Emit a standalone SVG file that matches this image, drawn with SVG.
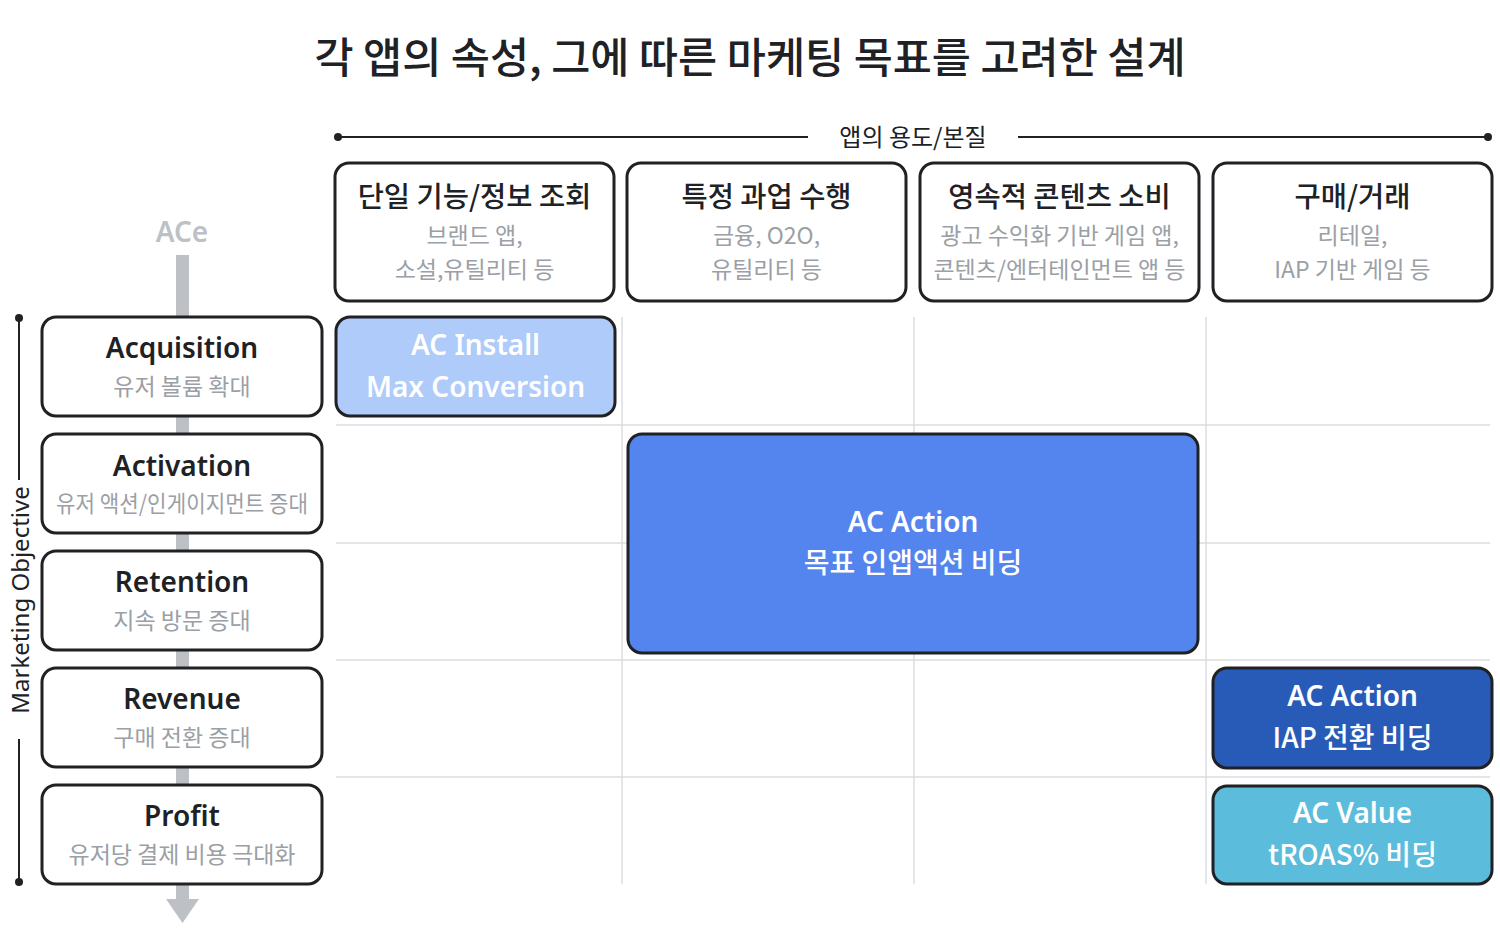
<svg xmlns="http://www.w3.org/2000/svg" width="1500" height="952" viewBox="0 0 1500 952">
<style>
text{font-family:"Noto Sans CJK KR","Noto Sans",sans-serif;text-anchor:middle}
.lat{font-family:"Noto Sans","Noto Sans CJK KR",sans-serif}
.title{font-size:42.5px;font-weight:500;fill:#202124}
.axis{font-size:24px;fill:#202124}
.hd{font-size:28.5px;font-weight:500;fill:#202124}
.sub{font-size:23px;fill:#9aa0a6}
.obj{font-size:28px;font-weight:600;fill:#202124}
.box{fill:#fff;stroke:#202124;stroke-width:3}
.grid{stroke:#dadce0;stroke-width:1.5}
.cell{stroke:#202124;stroke-width:3}
.wt{font-size:28px;font-weight:600;fill:#fff}
.wt2{font-size:28px;font-weight:500;fill:#fff}
.ln{stroke:#202124;stroke-width:2}
</style>
<rect width="1500" height="952" fill="#fff"/>
<text class="title" x="750" y="73">각 앱의 속성, 그에 따른 마케팅 목표를 고려한 설계</text>

<g id="axis-top">
<line class="ln" x1="338" y1="137" x2="808" y2="137"/>
<line class="ln" x1="1018" y1="137" x2="1488" y2="137"/>
<circle cx="338" cy="137" r="4" fill="#202124"/>
<circle cx="1488" cy="137" r="4" fill="#202124"/>
<text class="axis" x="913" y="146">앱의 용도/본질</text>
</g>

<g id="axis-left">
<line class="ln" x1="19" y1="318" x2="19" y2="480"/>
<line class="ln" x1="19" y1="739" x2="19" y2="882"/>
<circle cx="19" cy="318" r="4" fill="#202124"/>
<circle cx="19" cy="882" r="4" fill="#202124"/>
<text class="lat" x="0" y="0" font-size="24" fill="#202124" transform="translate(29,600) rotate(-90)">Marketing Objective</text>
</g>

<g id="grid">
<line class="grid" x1="622" y1="317" x2="622" y2="884"/>
<line class="grid" x1="914" y1="317" x2="914" y2="884"/>
<line class="grid" x1="1206" y1="317" x2="1206" y2="884"/>
<line class="grid" x1="336" y1="425" x2="1490" y2="425"/>
<line class="grid" x1="336" y1="543" x2="1490" y2="543"/>
<line class="grid" x1="336" y1="660" x2="1490" y2="660"/>
<line class="grid" x1="336" y1="777" x2="1490" y2="777"/>
</g>

<g id="connectors">
<rect x="176" y="255" width="13" height="645" fill="#bdc1c6"/>
<polygon points="166,899 199,899 182.5,923" fill="#bdc1c6"/>
</g>
<g id="ace"><text class="lat" x="182" y="242" font-size="28" font-weight="600" fill="#bdc1c6">ACe</text></g>

<g id="col1"><rect class="box" x="335" y="163" width="279" height="138" rx="14"/>
<text class="hd" x="474.5" y="207">단일 기능/정보 조회</text>
<text class="sub" x="474.5" y="244">브랜드 앱,</text>
<text class="sub" x="474.5" y="278">소설,유틸리티 등</text></g>
<g id="col2"><rect class="box" x="627" y="163" width="279" height="138" rx="14"/>
<text class="hd" x="766.5" y="207">특정 과업 수행</text>
<text class="sub" x="766.5" y="244">금융, O2O,</text>
<text class="sub" x="766.5" y="278">유틸리티 등</text></g>
<g id="col3"><rect class="box" x="920" y="163" width="279" height="138" rx="14"/>
<text class="hd" x="1059.5" y="207">영속적 콘텐츠 소비</text>
<text class="sub" x="1059.5" y="244">광고 수익화 기반 게임 앱,</text>
<text class="sub" x="1059.5" y="278">콘텐츠/엔터테인먼트 앱 등</text></g>
<g id="col4"><rect class="box" x="1213" y="163" width="279" height="138" rx="14"/>
<text class="hd" x="1352.5" y="207">구매/거래</text>
<text class="sub" x="1352.5" y="244">리테일,</text>
<text class="sub" x="1352.5" y="278">IAP 기반 게임 등</text></g>

<g id="acquisition"><rect class="box" x="42" y="317" width="280" height="99" rx="14"/>
<text class="obj lat" x="182" y="358">Acquisition</text>
<text class="sub" x="182" y="395">유저 볼륨 확대</text></g>
<g id="activation"><rect class="box" x="42" y="434" width="280" height="99" rx="14"/>
<text class="obj lat" x="182" y="476">Activation</text>
<text class="sub" x="182" y="512" textLength="252" lengthAdjust="spacingAndGlyphs">유저 액션/인게이지먼트 증대</text></g>
<g id="retention"><rect class="box" x="42" y="551" width="280" height="99" rx="14"/>
<text class="obj lat" x="182" y="592">Retention</text>
<text class="sub" x="182" y="629">지속 방문 증대</text></g>
<g id="revenue"><rect class="box" x="42" y="668" width="280" height="99" rx="14"/>
<text class="obj lat" x="182" y="709">Revenue</text>
<text class="sub" x="182" y="746">구매 전환 증대</text></g>
<g id="profit"><rect class="box" x="42" y="785" width="280" height="99" rx="14"/>
<text class="obj lat" x="182" y="826">Profit</text>
<text class="sub" x="182" y="863">유저당 결제 비용 극대화</text></g>

<g id="ac-install"><rect class="cell" x="336" y="317" width="279" height="99" rx="14" fill="#aecbfa"/>
<text class="wt lat" x="475.5" y="355">AC Install</text>
<text class="wt lat" x="475.5" y="397">Max Conversion</text></g>
<g id="ac-action"><rect class="cell" x="628" y="434" width="570" height="219" rx="14" fill="#5484ed"/>
<text class="wt lat" x="913" y="532">AC Action</text>
<text class="wt2" x="913" y="573">목표 인앱액션 비딩</text></g>
<g id="ac-action-iap"><rect class="cell" x="1213" y="668" width="279" height="100" rx="14" fill="#285bb7"/>
<text class="wt lat" x="1352.5" y="706">AC Action</text>
<text class="wt2" x="1352.5" y="748">IAP 전환 비딩</text></g>
<g id="ac-value"><rect class="cell" x="1213" y="786" width="279" height="98" rx="14" fill="#5bbcdc"/>
<text class="wt lat" x="1352.5" y="823">AC Value</text>
<text class="wt2" x="1352.5" y="865">tROAS% 비딩</text></g>
</svg>
